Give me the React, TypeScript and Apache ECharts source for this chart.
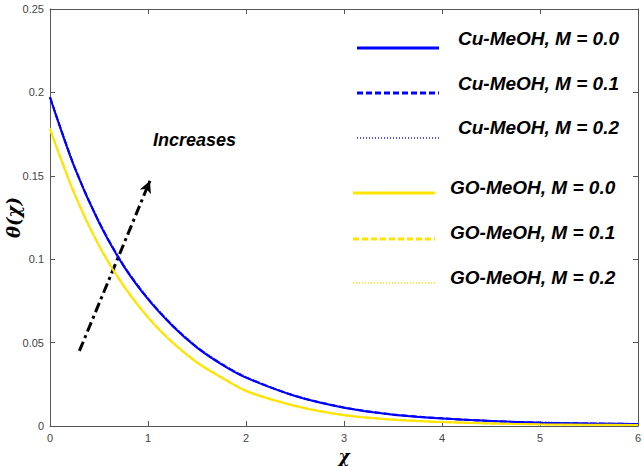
import React, { useEffect, useRef } from "react";
import * as echarts from "echarts";

const chiValues = [0, 0.25, 0.5, 0.75, 1.0, 1.25, 1.5, 1.75, 2.0, 2.5, 3.0, 3.5, 4.0, 4.5, 5.0, 5.5, 6.0];

const cuM00 = [0.197, 0.155, 0.122, 0.096, 0.076, 0.060, 0.047, 0.037, 0.029, 0.018, 0.011, 0.0068, 0.0045, 0.003, 0.002, 0.0015, 0.0012];
const cuM01 = [0.1972, 0.1553, 0.1223, 0.0963, 0.0763, 0.0603, 0.0472, 0.0372, 0.0292, 0.0181, 0.0111, 0.0069, 0.0046, 0.003, 0.002, 0.0015, 0.0012];
const cuM02 = [0.1974, 0.1556, 0.1226, 0.0966, 0.0766, 0.0606, 0.0474, 0.0374, 0.0294, 0.0182, 0.0112, 0.007, 0.0046, 0.0031, 0.0021, 0.0016, 0.0012];

const goM00 = [0.178, 0.139, 0.108, 0.084, 0.065, 0.050, 0.038, 0.029, 0.021, 0.012, 0.0065, 0.0038, 0.0024, 0.0015, 0.001, 0.0008, 0.0006];
const goM01 = [0.1782, 0.1393, 0.1083, 0.0843, 0.0653, 0.0502, 0.0382, 0.0292, 0.0211, 0.0121, 0.0066, 0.0039, 0.0024, 0.0015, 0.001, 0.0008, 0.0006];
const goM02 = [0.1784, 0.1396, 0.1086, 0.0846, 0.0656, 0.0504, 0.0384, 0.0294, 0.0212, 0.0122, 0.0067, 0.0039, 0.0025, 0.0016, 0.0011, 0.0008, 0.0006];

const seriesNames = [
  "Cu-MeOH, M = 0.0",
  "Cu-MeOH, M = 0.1",
  "Cu-MeOH, M = 0.2",
  "GO-MeOH, M = 0.0",
  "GO-MeOH, M = 0.1",
  "GO-MeOH, M = 0.2",
];

const arrowStart = [0.3, 0.045];
const arrowEnd = [1.02, 0.147];
const arrowText = "Increases";

const BLUE = "#0000ff";
const YELLOW = "#ffe400";

export default function App() {
  const ref = useRef<HTMLDivElement>(null);
  useEffect(() => {
    if (!ref.current) return;
    const chart = echarts.init(ref.current, undefined, { renderer: "svg" });
    const allData = [cuM00, cuM01, cuM02, goM00, goM01, goM02];
    const colors = [BLUE, BLUE, "#5050ff", YELLOW, YELLOW, "#ffe840"];
    const types: any[] = ["solid", [6, 3], [1, 2], "solid", [6, 3], [1, 2]];
    const series: any[] = allData.map((d, i) => ({
      name: seriesNames[i],
      type: "line",
      data: chiValues.map((x, j) => [x, d[j]]),
      smooth: 0.3,
      symbol: "none",
      z: 5 - (i % 3),
      lineStyle: { color: colors[i], width: 2, type: types[i] },
    }));
    series.push({
      name: "arrow",
      type: "line",
      data: [],
      markLine: {
        silent: true,
        symbol: ["none", "arrow"],
        symbolSize: [9, 12],
        label: { show: false },
        lineStyle: { color: "#000", width: 3, type: [10, 4, 3, 4] },
        data: [[{ coord: arrowStart }, { coord: arrowEnd }]],
      },
    });

    const legendLineX1 = [357, 357, 357, 353, 353, 353];
    const legendLineX2 = [439, 439, 439, 435, 435, 435];
    const legendLineY = [48, 93, 138, 193, 239, 283];
    const legendTextX = [458, 458, 458, 450, 450, 450];
    const legendTextY = [38, 83, 127, 187, 232, 277];
    const graphic: any[] = [];
    seriesNames.forEach((n, i) => {
      graphic.push({
        type: "line",
        shape: { x1: legendLineX1[i], y1: legendLineY[i], x2: legendLineX2[i], y2: legendLineY[i] },
        style: {
          stroke: colors[i],
          lineWidth: i % 3 === 2 ? 2 : 3,
          lineDash: i % 3 === 0 ? null : i % 3 === 1 ? [6, 3] : [1, 2],
        },
      });
      graphic.push({
        type: "text",
        x: legendTextX[i],
        y: legendTextY[i],
        style: {
          text: n,
          fill: "#000",
          font: "italic bold 19px 'Liberation Sans', Arial, sans-serif",
          verticalAlign: "middle",
          align: "left",
        },
      });
    });
    graphic.push({
      type: "text",
      x: 153,
      y: 140,
      style: {
        text: arrowText,
        fill: "#000",
        font: "italic bold 18px 'Liberation Sans', Arial, sans-serif",
        verticalAlign: "middle",
        align: "left",
      },
    });

    const axisLine = { show: true, onZero: false, lineStyle: { color: "#555", width: 1 } };
    const tickStyle = { show: true, inside: true, length: 5, lineStyle: { color: "#555" } };
    const labelStyle = { color: "#444", fontSize: 11, fontFamily: "'Liberation Sans', Arial, sans-serif" };

    chart.setOption({
      animation: false,
      backgroundColor: "#fff",
      grid: { left: 50, right: 6, top: 9, bottom: 40, containLabel: false, outerBoundsMode: "none" },
      xAxis: [
        {
          type: "value",
          min: 0,
          max: 6,
          interval: 1,
          name: "χ",
          nameLocation: "middle",
          nameGap: 21,
          nameMoveOverlap: false,
          nameTextStyle: { fontSize: 17, fontStyle: "italic", fontWeight: "bold", color: "#000", fontFamily: "'DejaVu Serif', serif" },
          axisLine,
          axisTick: tickStyle,
          axisLabel: { ...labelStyle, margin: 6 },
          splitLine: { show: false },
        },
        {
          type: "value",
          min: 0,
          max: 6,
          interval: 1,
          position: "top",
          axisLine,
          axisTick: tickStyle,
          axisLabel: { show: false },
          splitLine: { show: false },
        },
      ],
      yAxis: [
        {
          type: "value",
          min: 0,
          max: 0.25,
          interval: 0.05,
          name: "θ(χ)",
          nameLocation: "middle",
          nameGap: 28,
          nameMoveOverlap: false,
          nameTextStyle: { fontSize: 18, fontStyle: "italic", fontWeight: "bold", color: "#000", fontFamily: "'DejaVu Serif', serif" },
          axisLine,
          axisTick: tickStyle,
          axisLabel: { ...labelStyle, margin: 6 },
          splitLine: { show: false },
        },
        {
          type: "value",
          min: 0,
          max: 0.25,
          interval: 0.05,
          position: "right",
          axisLine,
          axisTick: tickStyle,
          axisLabel: { show: false },
          splitLine: { show: false },
        },
      ],
      series,
      graphic,
    });
    return () => chart.dispose();
  }, []);
  return (
    <div
      ref={ref}
      style={{ position: "fixed", left: 0, top: 0, width: 644, height: 466, background: "#fff" }}
    />
  );
}
